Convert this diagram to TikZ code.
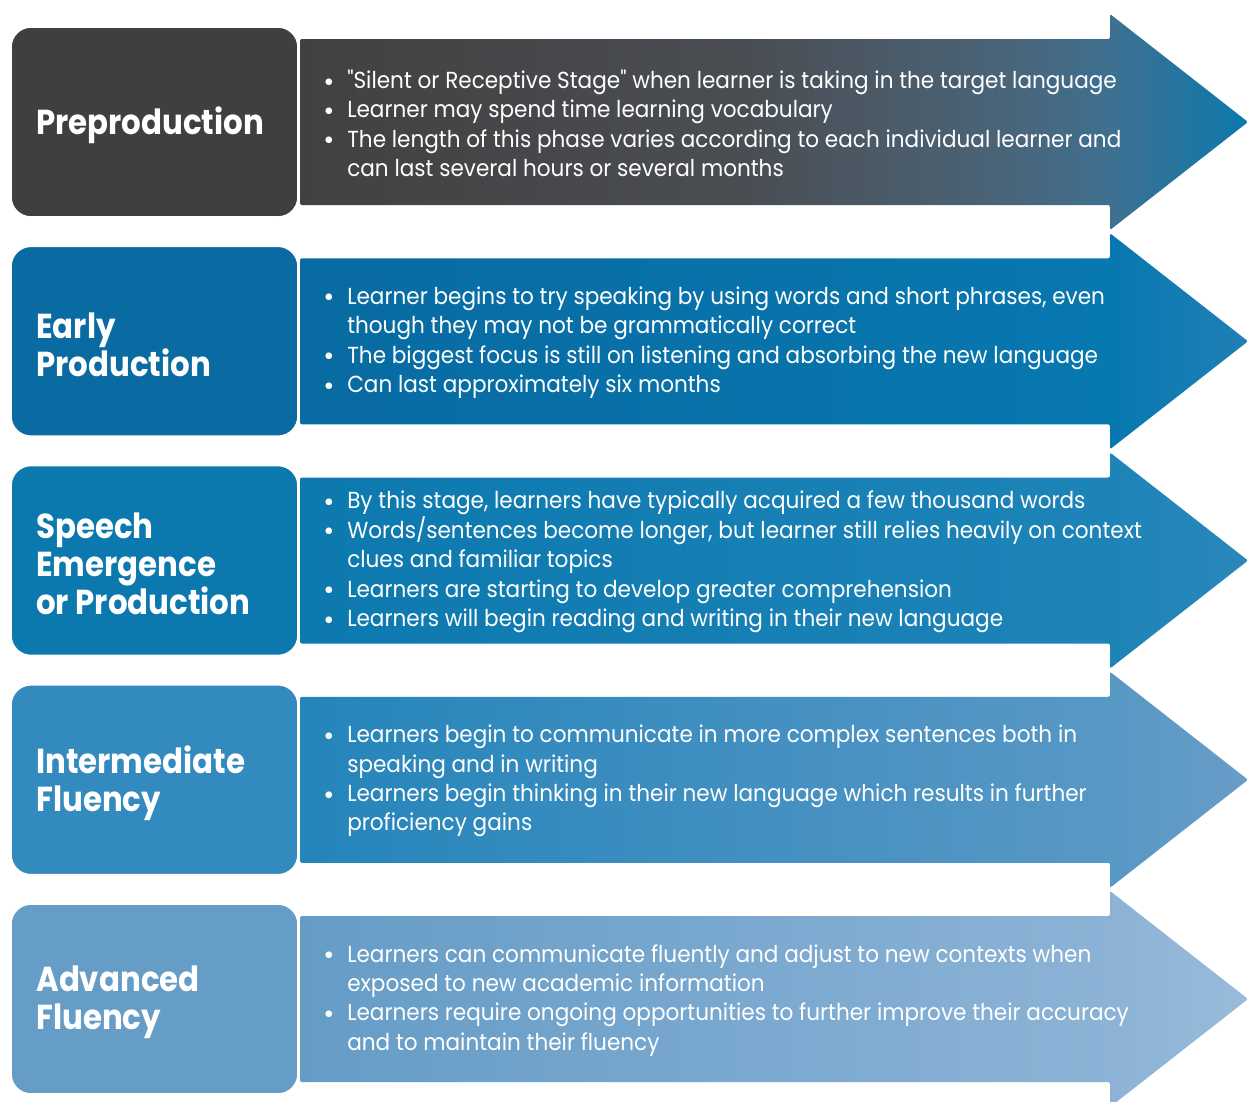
\documentclass[tikz,border=0pt]{standalone}
\usepackage{fontspec}
\setmainfont[FakeStretch=0.93, Ligatures=TeXOff]{Poppins}
\newfontfamily\headfont[FakeStretch=0.89]{Poppins}
\newfontfamily\symfont{DejaVu Sans}

% Horizontal shadings for the five arrows (path box maps to 25bp..75bp)
\pgfdeclarehorizontalshading{arrowA}{100bp}{color(0bp)=(rgb,255:red,65;green,65;blue,65); color(25bp)=(rgb,255:red,65;green,65;blue,65); color(48bp)=(rgb,255:red,74;green,77;blue,82); color(62bp)=(rgb,255:red,74;green,100;blue,120); color(67.7bp)=(rgb,255:red,63;green,112;blue,144); color(75bp)=(rgb,255:red,12;green,121;blue,174); color(100bp)=(rgb,255:red,12;green,121;blue,174)}
\pgfdeclarehorizontalshading{arrowB}{100bp}{color(0bp)=(rgb,255:red,8;green,107;blue,162); color(25bp)=(rgb,255:red,8;green,107;blue,162); color(68bp)=(rgb,255:red,8;green,120;blue,176); color(75bp)=(rgb,255:red,31;green,128;blue,181); color(100bp)=(rgb,255:red,31;green,128;blue,181)}
\pgfdeclarehorizontalshading{arrowC}{100bp}{color(0bp)=(rgb,255:red,12;green,121;blue,175); color(25bp)=(rgb,255:red,12;green,121;blue,175); color(68bp)=(rgb,255:red,30;green,132;blue,184); color(75bp)=(rgb,255:red,42;green,135;blue,187); color(100bp)=(rgb,255:red,42;green,135;blue,187)}
\pgfdeclarehorizontalshading{arrowD}{100bp}{color(0bp)=(rgb,255:red,36;green,133;blue,186); color(25bp)=(rgb,255:red,36;green,133;blue,186); color(50bp)=(rgb,255:red,68;green,144;blue,194); color(68bp)=(rgb,255:red,88;green,152;blue,197); color(75bp)=(rgb,255:red,104;green,157;blue,199); color(100bp)=(rgb,255:red,104;green,157;blue,199)}
\pgfdeclarehorizontalshading{arrowE}{100bp}{color(0bp)=(rgb,255:red,101;green,156;blue,198); color(25bp)=(rgb,255:red,101;green,156;blue,198); color(68bp)=(rgb,255:red,140;green,179;blue,214); color(75bp)=(rgb,255:red,152;green,187;blue,218); color(100bp)=(rgb,255:red,152;green,187;blue,218)}

\definecolor{boxA}{HTML}{3F3F3F}
\definecolor{boxB}{HTML}{0A6BA2}
\definecolor{boxC}{HTML}{0B78AE}
\definecolor{boxD}{HTML}{338ABF}
\definecolor{boxE}{HTML}{669DC6}

% Bullet marker and continuation indent for the lists
\newcommand{\bul}{\makebox[17.25pt][l]{\hspace{0.6pt}\raisebox{3.2pt}{\symfont\fontsize{6.5}{6.5}\selectfont ●}}}
\newcommand{\cont}{\hspace*{17.25pt}}

% One stage: centre y, box colour, shading, name, heading, bullet text
\newcommand{\stagerow}[6]{%
  \path[stagearrow, shading=#3] (300,#1-83) -- (1110,#1-83) -- (1110,#1-108)
        -- (1248,#1) -- (1110,#1+108) -- (1110,#1+83) -- (300,#1+83) -- cycle;
  \node[stagebox, fill=#2] (#4box) at (154.5,#1) {};
  \node[headtext] (#4head) at (36,#1) {#5};
  \node[bodytext] (#4body) at (324,#1) {#6};
}

\begin{document}
\begin{tikzpicture}[x=0.75pt, y=-0.75pt,
  stagearrow/.style={rounded corners=1.5pt},
  stagebox/.style={draw=white, line width=1.2pt, rounded corners=15pt,
    minimum width=215.25pt, minimum height=142.5pt, inner sep=0pt},
  headtext/.style={anchor=west, inner sep=0pt, align=left, text=white, yshift=-2.5pt,
    font=\headfont\bfseries\fontsize{26}{28.5}\selectfont},
  bodytext/.style={anchor=west, inner sep=0pt, align=left, text=white, yshift=-1pt,
    font=\fontsize{17.4}{22.1}\selectfont}]
\clip (0,0) rectangle (1248,1101);
\useasboundingbox (0,0) rectangle (1248,1101);
\fill[white] (0,0) rectangle (1248,1101);

\stagerow{122}{boxA}{arrowA}{pre}{Preproduction}{%
\bul"Silent or Receptive Stage" when learner is taking in the target language\\
\bul Learner may spend time learning vocabulary\\
\bul The length of this phase varies according to each individual learner and\\
\cont can last several hours or several months}

\stagerow{341.25}{boxB}{arrowB}{early}{Early\\Production}{%
\bul Learner begins to try speaking by using words and short phrases, even\\
\cont though they may not be grammatically correct\\
\bul The biggest focus is still on listening and absorbing the new language\\
\bul Can last approximately six months}

\stagerow{560.5}{boxC}{arrowC}{speech}{Speech\\Emergence\\or Production}{%
\bul By this stage, learners have typically acquired a few thousand words\\
\bul Words/sentences become longer, but learner still relies heavily on context\\
\cont clues and familiar topics\\
\bul Learners are starting to develop greater comprehension\\
\bul Learners will begin reading and writing in their new language}

\stagerow{779.75}{boxD}{arrowD}{inter}{Intermediate\\Fluency}{%
\bul Learners begin to communicate in more complex sentences both in\\
\cont speaking and in writing\\
\bul Learners begin thinking in their new language which results in further\\
\cont proficiency gains}

\stagerow{999}{boxE}{arrowE}{adv}{Advanced\\Fluency}{%
\bul Learners can communicate fluently and adjust to new contexts when\\
\cont exposed to new academic information\\
\bul Learners require ongoing opportunities to further improve their accuracy\\
\cont and to maintain their fluency}
\end{tikzpicture}
\end{document}
